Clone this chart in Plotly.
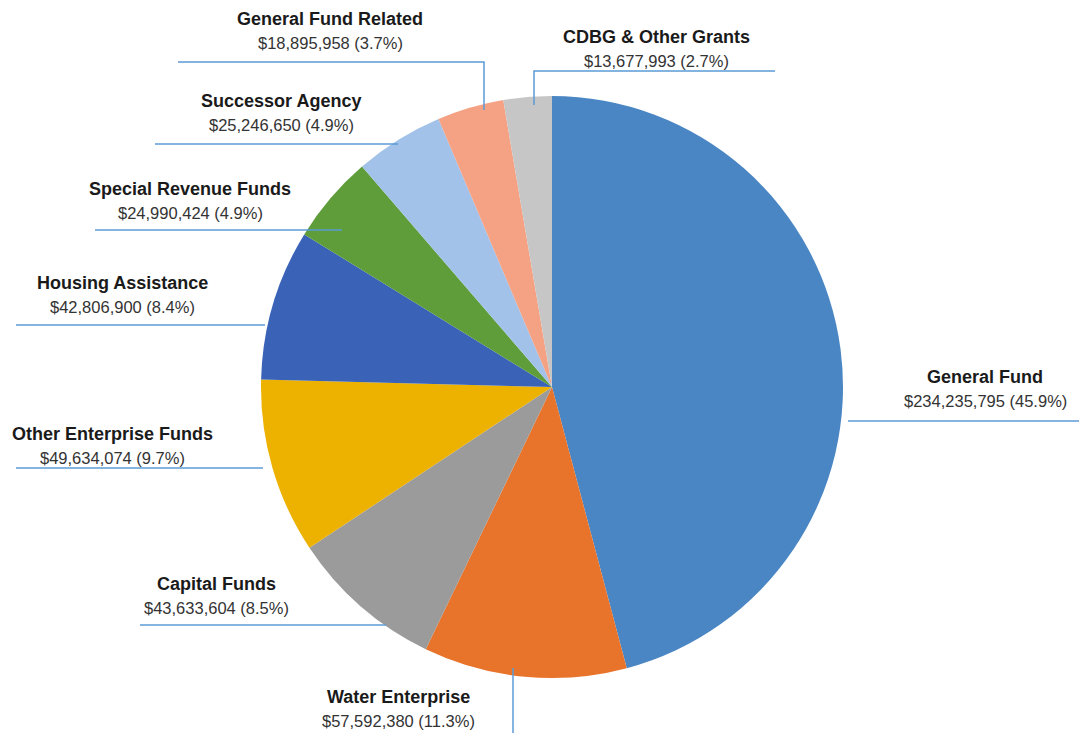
import plotly.graph_objects as go

W, H = 1079, 733

# ---- data ----
categories = ["General Fund", "Water Enterprise", "Capital Funds", "Other Enterprise Funds",
              "Housing Assistance", "Special Revenue Funds", "Successor Agency",
              "General Fund Related", "CDBG & Other Grants"]
values = [234235795, 57592380, 43633604, 49634074, 42806900, 24990424, 25246650,
          18895958, 13677993]
colors = ["#4A86C3", "#E8732A", "#9B9B9B", "#EDB100", "#3A63B8", "#5E9D3A",
          "#A3C2EA", "#F4A184", "#C6C6C6"]

total = sum(values)

# ---- layout constants (pixels) ----
CX, CY, R = 552, 387, 291

# label centre (x, title y) and leader path for each category
label_pos = {
    "General Fund": (985, 377),
    "Water Enterprise": (398, 697),
    "Capital Funds": (216, 584),
    "Other Enterprise Funds": (112, 434),
    "Housing Assistance": (122, 283),
    "Special Revenue Funds": (190, 189),
    "Successor Agency": (281, 101),
    "General Fund Related": (330, 19),
    "CDBG & Other Grants": (656, 37),
}
leaders = {
    "General Fund": [(848, 421), (1079, 421)],
    "Water Enterprise": [(513, 668), (513, 733)],
    "Capital Funds": [(140, 625), (386, 625)],
    "Other Enterprise Funds": [(16, 468), (263, 468)],
    "Housing Assistance": [(16, 325), (265, 325)],
    "Special Revenue Funds": [(95, 230), (342, 230)],
    "Successor Agency": [(155, 144), (398, 144)],
    "General Fund Related": [(178, 62), (484, 62), (484, 110)],
    "CDBG & Other Grants": [(775, 71), (534, 71), (534, 105)],
}

fig = go.Figure(go.Pie(
    labels=categories, values=values, sort=False, direction="clockwise", rotation=0,
    marker=dict(colors=colors, line=dict(width=0)),
    textinfo="none", hoverinfo="label+value+percent", showlegend=False,
    domain=dict(x=[(CX - R) / W, (CX + R) / W], y=[1 - (CY + R) / H, 1 - (CY - R) / H]),
))

def px(x):
    return x / W

def py(y):
    return 1 - y / H

shapes = []
for name in categories:
    pts = leaders[name]
    path = "M " + " L ".join(f"{px(x)},{py(y)}" for x, y in pts)
    shapes.append(dict(type="path", xref="paper", yref="paper", path=path,
                       line=dict(color="#5B9BD5", width=1.5)))

annotations = []
for name, v in zip(categories, values):
    x, y = label_pos[name]
    pct = v / total * 100
    annotations.append(dict(x=px(x), y=py(y), xref="paper", yref="paper",
                            text=f"<b>{name}</b>", showarrow=False,
                            font=dict(family="Liberation Sans, Arial", size=18, color="#1a1a1a"),
                            xanchor="center", yanchor="middle"))
    annotations.append(dict(x=px(x), y=py(y + 24), xref="paper", yref="paper",
                            text=f"${v:,.0f} ({pct:.1f}%)", showarrow=False,
                            font=dict(family="Liberation Sans, Arial", size=16.5, color="#333333"),
                            xanchor="center", yanchor="middle"))

fig.update_layout(width=W, height=H, margin=dict(l=0, r=0, t=0, b=0),
                  paper_bgcolor="white", plot_bgcolor="white",
                  shapes=shapes, annotations=annotations)

fig.write_html("out.html")
